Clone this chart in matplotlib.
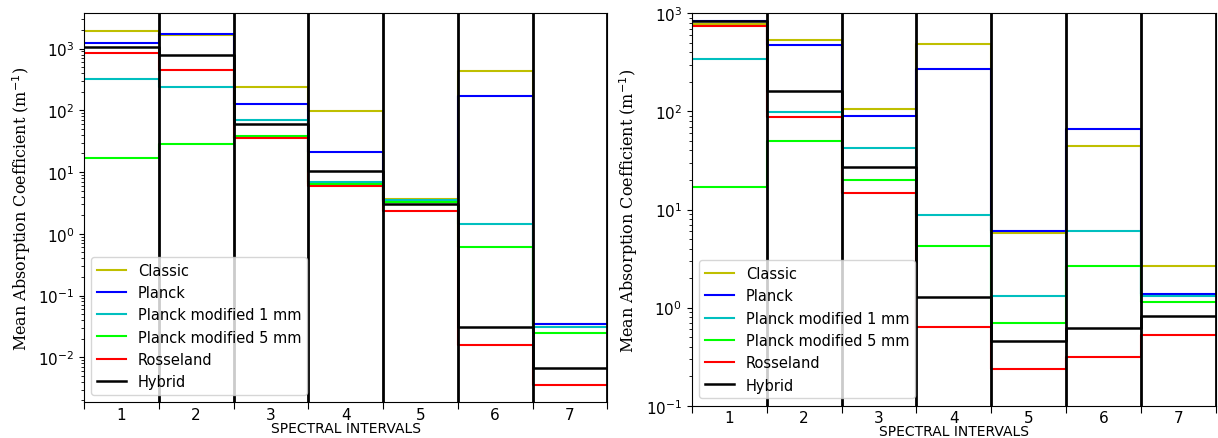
import numpy as np
import matplotlib
matplotlib.use("Agg")
from matplotlib import pyplot as plt

# spectral intervals 1..7
intervals = [1, 2, 3, 4, 5, 6, 7]
edges = np.arange(0.5, 8.0, 1.0)

labels = ['Classic', 'Planck', 'Planck modified 1 mm', 'Planck modified 5 mm', 'Rosseland', 'Hybrid']
colors = ['y', 'b', 'c', 'lime', 'r', 'k']

# mean absorption coefficients, left case (m^-1)
classic_a = [1950, 1680, 241, 99, 3.7, 426, 0.034]
planck_a = [1230, 1750, 125, 21.2, 3.4, 170, 0.034]
pm1_a = [316, 238, 70.5, 6.8, 3.5, 1.45, 0.031]
pm5_a = [16.6, 28.6, 37.7, 6.5, 3.3, 0.61, 0.0246]
ross_a = [860, 455, 35.7, 6.0, 2.3, 0.0155, 0.0036]
hybrid_a = [1080, 800, 60.6, 10.5, 3.05, 0.031, 0.0068]

# mean absorption coefficients, right case (m^-1)
classic_b = [770, 537, 105, 492, 5.8, 44, 2.64]
planck_b = [826, 473, 90.8, 269, 6.07, 65.8, 1.38]
pm1_b = [345, 98.8, 42.3, 8.7, 1.30, 6.1, 1.30]
pm5_b = [17.1, 50, 19.9, 4.2, 0.69, 2.67, 1.15]
ross_b = [741, 88.7, 14.6, 0.634, 0.234, 0.315, 0.52]
hybrid_b = [826, 162, 27, 1.28, 0.456, 0.62, 0.83]

series_a = [classic_a, planck_a, pm1_a, pm5_a, ross_a, hybrid_a]
series_b = [classic_b, planck_b, pm1_b, pm5_b, ross_b, hybrid_b]

fig = plt.figure(figsize=(12.18, 4.39), dpi=100)
ax1 = fig.add_axes([0.069, 0.0813, 0.4296, 0.8868])
ax2 = fig.add_axes([0.5679, 0.0736, 0.4305, 0.8938])


def draw(ax, series):
    for vals, lab, col in zip(series, labels, colors):
        y = np.append(vals, vals[-1])
        lw = 1.8 if col == 'k' else 1.5
        ax.step(edges, y, where='post', color=col, lw=lw, label=lab)
    ax.set_yscale('log')
    ax.set_xlim(edges[0], edges[-1])
    for e in edges[1:]:
        ax.axvline(e, color='k', lw=2)
    ax.set_xticks(edges)
    ax.set_xticklabels([''] * len(edges))
    ax.set_xticks(intervals, minor=True)
    ax.set_xticklabels([str(i) for i in intervals], minor=True, fontsize=11)
    ax.tick_params(axis='x', which='minor', length=0)
    ax.tick_params(axis='x', which='major', length=5)
    ax.tick_params(axis='y', labelsize=11)
    ax.set_xlabel('SPECTRAL INTERVALS', fontsize=10, labelpad=-1)
    ax.set_ylabel('Mean Absorption Coefficient (m$^{-1}$)', family='DejaVu Serif', fontsize=11.5)
    ax.legend(loc='lower left', fontsize=10.5)


draw(ax1, series_a)
draw(ax2, series_b)
ax2.set_ylim(0.1, 1000)

plt.savefig('out.png', dpi=100)
